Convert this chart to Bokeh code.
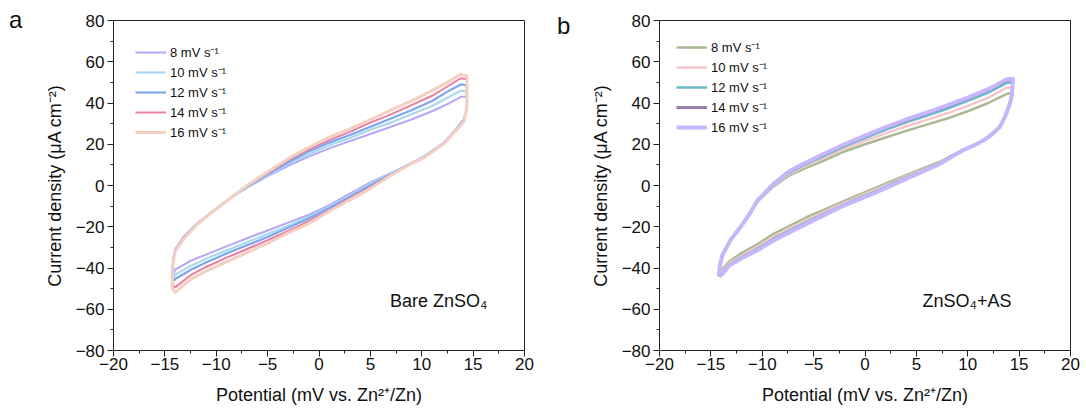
from bokeh.plotting import figure
from bokeh.layouts import row
from bokeh.models import Label, Legend, LegendItem, SingleIntervalTicker, Range1d, Div
from bokeh.embed import file_html
from bokeh.resources import INLINE

FONT = "Liberation Sans"

rate_labels = ["8 mV s\u207b\u00b9", "10 mV s\u207b\u00b9", "12 mV s\u207b\u00b9",
               "14 mV s\u207b\u00b9", "16 mV s\u207b\u00b9"]

x_tick_values = [-20, -15, -10, -5, 0, 5, 10, 15, 20]
y_tick_values = [-80, -60, -40, -20, 0, 20, 40, 60, 80]

# ---------------- panel a: Bare ZnSO4 ----------------
a_x_up = [-14.3, -14.2, -14.0, -13.2, -11.9, -10.3, -8.6, -7, -5, -3, -1, 1, 3, 5, 7, 9, 11, 12.5, 13.8, 14.4]
a_up_8 = [-45, -36, -31, -25, -18.5, -12.3, -6, -1, 4.5, 9.5, 14, 18, 21.5, 25, 28.5, 32, 36, 39.5, 43, 43]
a_up_10 = [-46, -36.5, -31.5, -25.5, -18.7, -12.4, -6, -0.8, 5, 10.5, 15.2, 19.5, 23, 27, 30.5, 34.5, 38.5, 42.5, 46, 45.5]
a_up_12 = [-47, -37, -31.5, -25.5, -18.8, -12.5, -6, -0.5, 5.5, 11.3, 16.5, 20.8, 24.5, 28.5, 32.5, 36.5, 41, 45.5, 49, 48.5]
a_up_14 = [-48, -37.5, -32, -26, -19, -12.5, -6, -0.2, 6, 12.2, 17.4, 22, 26, 30.5, 34.5, 39, 43.5, 48, 52, 51.5]
a_up_16 = [-50, -38, -32, -26, -19, -12.5, -6, 0, 6.6, 13, 18.5, 23.5, 27.5, 32, 36.5, 41, 46, 50, 54, 53]

a_x_dn = [14.4, 14.4, 14.1, 13.4, 12.1, 10.2, 8.9, 7.0, 5, 3, 1, -1, -3, -5, -7, -9, -11, -12.5, -14.0, -14.3]
a_dn_8 = [43, 37, 32, 27.5, 20.5, 14, 10.5, 6, 1.5, -4, -9.5, -14.2, -18, -21.8, -25.6, -29.5, -33.5, -36.5, -40.8, -45]
a_dn_10 = [45.5, 37.5, 32, 27.5, 20.5, 14, 10.5, 5.8, 0.8, -4.8, -10.3, -15, -19.5, -23.5, -27.5, -31.5, -35.5, -39, -43.2, -46]
a_dn_12 = [48.5, 38, 32, 27.5, 20.3, 13.8, 10.5, 5.5, 0, -5.5, -11, -16, -20.5, -25, -29, -33, -37.3, -41, -45.3, -47]
a_dn_14 = [51.5, 38, 31.5, 27, 20, 13.7, 10.4, 5.2, -0.8, -6.3, -12, -17.3, -22, -26.5, -30.8, -35, -39.5, -43.5, -49.4, -48]
a_dn_16 = [53, 38, 31, 27, 20, 13.5, 10.3, 5, -1.5, -7, -12.5, -18.5, -23, -28, -32.5, -37, -41.5, -45.5, -51.8, -50]

a_colors = ["#b6a6f8", "#a9d8f2", "#7ea6ee", "#e87ea2", "#f4cfc2"]
a_widths = [2, 2.2, 2.2, 2, 3]

# ---------------- panel b: ZnSO4+AS ----------------
b_x_up = [-14.2, -14.15, -13.9, -13.1, -12.1, -11.2, -10.5, -9, -7.5, -6, -4, -2, 0, 2, 4, 6, 8, 10, 12, 13.8, 14.4]
b_up_8 = [-43.5, -39.5, -33.5, -26.5, -20, -13.5, -8, -0.8, 4.5, 8, 12.1, 16.5, 20, 23.3, 26.5, 29.5, 32.5, 36, 40, 44.4, 45]
b_up_10 = [-43.7, -39.5, -33.7, -26.5, -20, -13.5, -7.8, -0.4, 5.2, 8.9, 13.3, 17.8, 21.6, 25.3, 28.7, 31.8, 35, 38.6, 42.6, 47.5, 47.5]
b_up_12 = [-44, -39.5, -34, -26.5, -20, -13.5, -7.6, 0, 5.8, 9.7, 14.4, 19, 23, 27, 30.6, 33.8, 37.2, 41, 45, 49.8, 49.8]
b_up_14 = [-44, -39.5, -34, -26.5, -20, -13.5, -7.5, 0.2, 6.3, 10.3, 15.1, 19.7, 23.8, 27.9, 31.5, 34.9, 38.4, 42.2, 46.3, 51, 51.2]
b_up_16 = [-44, -39.5, -34, -26.5, -20, -13.5, -7.5, 0.3, 6.5, 10.5, 15.4, 20, 24.2, 28.3, 32, 35.3, 38.8, 42.6, 46.7, 51.5, 51.7]

b_x_dn = [14.4, 14.3, 14.1, 13.6, 13.1, 12.3, 11.5, 10.5, 9.5, 8.4, 7.3, 5.5, 4.0, 2.5, 0.8, -1, -2.4, -4,
          -5.7, -7.3, -8.9, -10.5, -12.1, -13.2, -13.9, -14.2]
b_dn_8 = [45, 43, 39.6, 33, 28.3, 24.5, 21.8, 19.2, 17, 14.5, 11.5, 8, 5, 2, -1.6, -5.3, -8.3, -11.8,
          -15.4, -19.4, -23.4, -28.5, -33, -36.8, -40.5, -43.5]
b_dn_10 = [47.5, 44, 39.6, 33, 28.3, 24.5, 21.8, 19.2, 17, 14.3, 11.2, 7.5, 4.4, 1.2, -2.4, -6.3, -9.2, -12.8,
           -16.5, -20.5, -24.6, -29.8, -34.2, -37.5, -41.5, -43.7]
b_dn_12 = [49.8, 44, 39.6, 33, 28.3, 24.5, 21.8, 19.2, 17, 14.1, 10.9, 7, 3.8, 0.5, -3.3, -7, -10, -13.8,
           -17.8, -21.8, -25.8, -30.8, -35, -38.3, -42.5, -44]
b_dn_14 = [51.2, 44, 39.6, 33, 28.3, 24.5, 21.8, 19.2, 17, 14, 10.6, 6.7, 3.4, 0, -3.8, -7.3, -10.4, -14.2,
           -18.3, -22.4, -26.4, -31.3, -35.3, -38.6, -42.8, -44]
b_dn_16 = [51.7, 44, 39.6, 33, 28.3, 24.5, 21.8, 19.2, 17, 13.8, 10.5, 6.5, 3.2, -0.2, -4, -7.6, -10.5, -14.5,
           -18.6, -22.6, -26.7, -31.5, -35.5, -38.8, -43, -44]

b_colors = ["#a9b994", "#f6c5cc", "#6bbccb", "#9a7fae", "#c6b7fb"]
b_widths = [2.5, 2.5, 2.5, 3, 4]


def minus(v):
    return ("\u2212" + str(abs(v))) if v < 0 else str(v)


def letter_div(letter, pad_left, pad_top):
    html = ('<div style="padding:%dpx 0 0 %dpx; font-family:\'Liberation Sans\'; font-size:24px; '
            'line-height:24px; color:#111111;">%s</div>' % (pad_top, pad_left, letter))
    return Div(text=html, width=30, height=412, margin=0)


def make_panel(note, note_x, x_up, ups, x_dn, dns, colors, widths,
               left, right, leg_margin, leg_pad):
    p = figure(width=left + 411 + right, height=412, output_backend="svg", title=None,
               toolbar_location=None, x_range=Range1d(-20, 20), y_range=Range1d(-80, 80),
               min_border_left=left, min_border_right=right, min_border_top=20,
               min_border_bottom=62)
    p.grid.visible = False
    p.outline_line_color = "#222222"
    p.outline_line_width = 1

    p.xaxis.ticker = SingleIntervalTicker(interval=5, num_minor_ticks=2)
    p.yaxis.ticker = SingleIntervalTicker(interval=20, num_minor_ticks=2)
    p.xaxis.major_label_overrides = {v: minus(v) for v in x_tick_values}
    p.yaxis.major_label_overrides = {v: minus(v) for v in y_tick_values}
    for ax in (p.xaxis[0], p.yaxis[0]):
        ax.axis_line_color = "#222222"
        ax.major_tick_line_color = "#222222"
        ax.minor_tick_line_color = "#222222"
        ax.major_tick_out = 6
        ax.major_tick_in = 0
        ax.minor_tick_out = 3
        ax.minor_tick_in = 0
        ax.major_label_text_font = FONT
        ax.major_label_text_font_size = "17px"
        ax.major_label_text_color = "#111111"
        ax.axis_label_text_font = FONT
        ax.axis_label_text_font_size = "18px"
        ax.axis_label_text_font_style = "normal"
        ax.axis_label_text_color = "#111111"
    p.xaxis.axis_label = "Potential (mV vs. Zn\u00b2\u207a/Zn)"
    p.yaxis.axis_label = "Current density (\u03bcA cm\u207b\u00b2)"
    p.xaxis.major_label_standoff = 1
    p.yaxis.major_label_standoff = 3
    p.xaxis.axis_label_standoff = 12
    p.yaxis.axis_label_standoff = 8

    items = []
    for yu, yd, c, w, lab in zip(ups, dns, colors, widths, rate_labels):
        r = p.line(x_up + x_dn, yu + yd, line_color=c, line_width=w, line_join="round")
        items.append(LegendItem(label=lab, renderers=[r]))

    leg = Legend(items=items, location="top_left")
    leg.border_line_color = None
    leg.background_fill_alpha = 0
    leg.label_text_font = FONT
    leg.label_text_font_size = "13px"
    leg.label_text_color = "#111111"
    leg.glyph_width = 31
    leg.glyph_height = 20
    leg.label_height = 20
    leg.spacing = 0
    leg.label_standoff = 4
    leg.margin = leg_margin
    leg.padding = leg_pad
    p.add_layout(leg)

    p.add_layout(Label(x=note_x, y=-61, text=note, text_font=FONT, text_font_size="18px",
                       text_color="#111111"))
    return p


fa = letter_div("a", 9, 8)
pa = make_panel("Bare ZnSO\u2084", 6.9, a_x_up, [a_up_8, a_up_10, a_up_12, a_up_14, a_up_16],
                a_x_dn, [a_dn_8, a_dn_10, a_dn_12, a_dn_14, a_dn_16], a_colors, a_widths,
                83, 19, 22, 10)
fb = letter_div("b", 14, 14)
pb = make_panel("ZnSO\u2084+AS", 5.6, b_x_up, [b_up_8, b_up_10, b_up_12, b_up_14, b_up_16],
                b_x_dn, [b_dn_8, b_dn_10, b_dn_12, b_dn_14, b_dn_16], b_colors, b_widths,
                86, 15, 17, 9)

layout = row(fa, pa, fb, pb)
open("out.html", "w").write(file_html(layout, INLINE))
